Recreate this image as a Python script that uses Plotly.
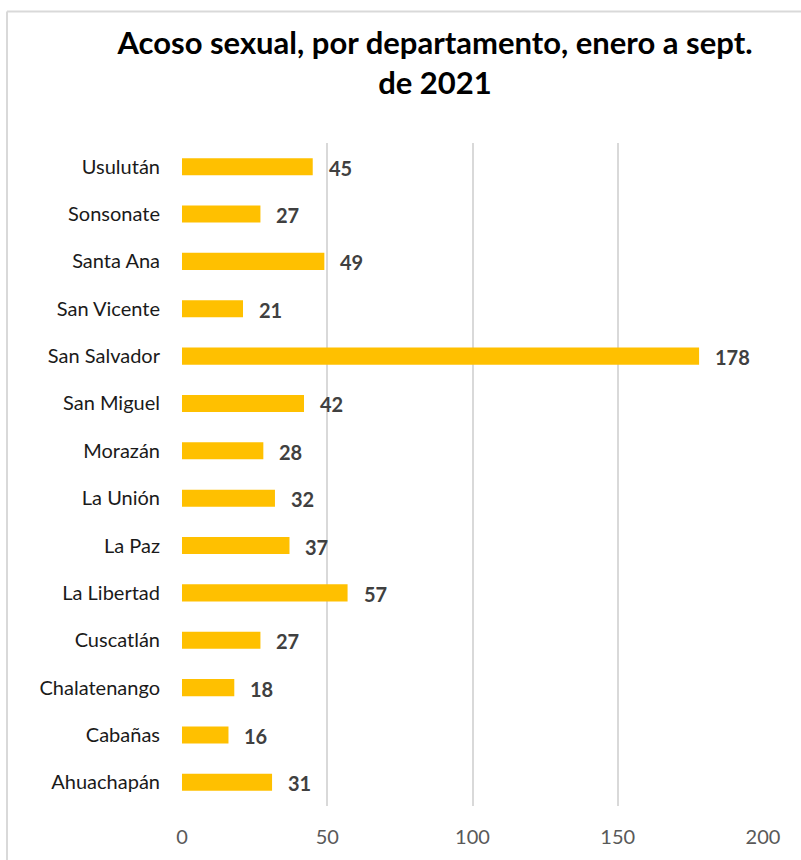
import plotly.graph_objects as go

departamentos = ["Ahuachapán", "Cabañas", "Chalatenango", "Cuscatlán", "La Libertad",
                 "La Paz", "La Unión", "Morazán", "San Miguel", "San Salvador",
                 "San Vicente", "Santa Ana", "Sonsonate", "Usulután"]
casos = [31, 16, 18, 27, 57, 37, 32, 28, 42, 178, 21, 49, 27, 45]
x_ticks = [0, 50, 100, 150, 200]

W, H = 801, 860
L, R, T, B = 182, 38, 143, 54
pw, ph = W - L - R, H - T - B
FONT = "Lato, Open Sans, sans-serif"

def px_x(p):
    return (p - L) / pw

def px_y(p):
    return (H - B - p) / ph

fig = go.Figure()
fig.add_trace(go.Bar(
    y=departamentos, x=casos, orientation="h",
    marker=dict(color="#FFC000", line=dict(width=0)),
    width=0.36, hoverinfo="skip",
))

for d, v in zip(departamentos, casos):
    fig.add_annotation(x=v, y=d, xref="x", yref="y", text=f"<b>{v}</b>",
                       showarrow=False, xanchor="left", yanchor="middle", xshift=14, yshift=-1,
                       font=dict(family=FONT, size=20, color="#404040"))

# chart-area border (top and left edges visible in the reference)
fig.add_shape(type="line", xref="paper", yref="paper",
              x0=px_x(7), x1=px_x(W + 5), y0=px_y(11.5), y1=px_y(11.5),
              line=dict(color="#D9D9D9", width=2), layer="above")
fig.add_shape(type="line", xref="paper", yref="paper",
              x0=px_x(7), x1=px_x(7), y0=px_y(11.5), y1=px_y(H + 5),
              line=dict(color="#D9D9D9", width=2), layer="above")

fig.update_layout(
    width=W, height=H,
    margin=dict(l=L, r=R, t=T, b=B, pad=0),
    paper_bgcolor="white", plot_bgcolor="white",
    showlegend=False,
    title=dict(text="<b>Acoso sexual, por departamento, enero a sept.<br>de 2021</b>",
               x=435 / W, xref="container", xanchor="center",
               y=1 - 54 / H, yref="container", yanchor="top",
               font=dict(family=FONT, size=31, color="#000000")),
    xaxis=dict(range=[0, 200], tickvals=x_ticks, showgrid=True, gridcolor="#D9D9D9", gridwidth=1.5,
               zeroline=False, showline=False, ticks="",
               ticklabelstandoff=17,
               tickfont=dict(family=FONT, size=20, color="#595959"),
               fixedrange=True),
    yaxis=dict(categoryorder="array", categoryarray=departamentos, range=[-0.5, 13.5],
               showgrid=False, zeroline=False, showline=False, ticks="",
               ticklabelstandoff=21,
               tickfont=dict(family=FONT, size=20, color="#1a1a1a"),
               fixedrange=True),
)

fig.write_html("out.html", config={"displayModeBar": False},
               post_script="document.body.style.margin='0';document.body.style.overflow='hidden';")
